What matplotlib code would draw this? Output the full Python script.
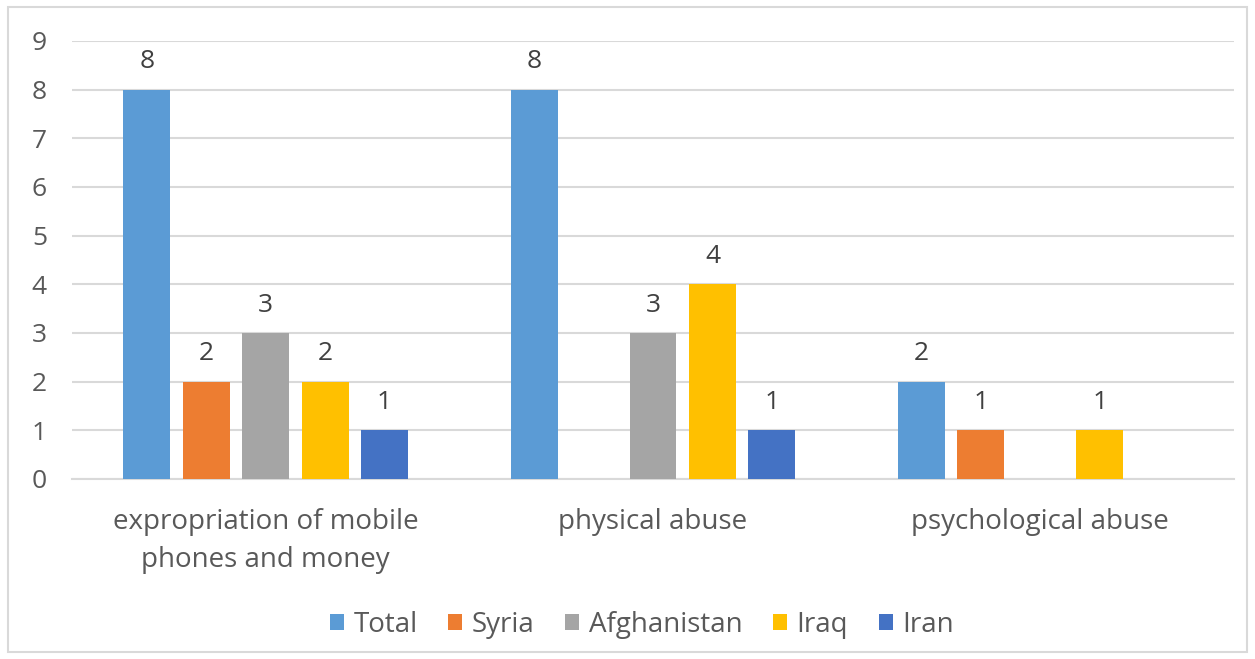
import numpy as np
import matplotlib.pyplot as plt
from matplotlib.patches import Rectangle

categories = ["expropriation of mobile\nphones and money", "physical abuse", "psychological abuse"]
series = ["Total", "Syria", "Afghanistan", "Iraq", "Iran"]
total = [8, 8, 2]
syria = [2, 0, 1]
afghanistan = [3, 3, 0]
iraq = [2, 4, 1]
iran = [1, 1, 0]
colors = ["#5b9bd5", "#ed7d31", "#a5a5a5", "#ffc000", "#4472c4"]

plt.rcParams['font.family'] = ['Open Sans', 'DejaVu Sans']
txt = "#595959"

fig = plt.figure(figsize=(12.55, 6.59), dpi=100)
ax = fig.add_axes([72/1255, 1-479/659, 1162/1255, 438/659])

x = np.arange(len(categories))
pitch = 0.1535
width = 0.121
allvals = [total, syria, afghanistan, iraq, iran]
for i, (name, vals) in enumerate(zip(series, allvals)):
    pos = x + (i - 2) * pitch
    v = np.array(vals, dtype=float)
    bars = ax.bar(pos, v, width, color=colors[i], label=name, zorder=3)
    for p, val in zip(pos, vals):
        if val > 0:
            ax.annotate(str(val), (p, val), xytext=(0, 11), textcoords='offset points',
                        ha='center', va='bottom', fontsize=19, color="#404040")

ax.set_xlim(-0.5, 2.5)
ax.set_ylim(0, 9)
ax.set_yticks(range(0, 10))
ax.yaxis.grid(True, color="#d9d9d9", linewidth=1.5, zorder=0)
ax.set_axisbelow(True)
for s in ["top", "right", "left"]:
    ax.spines[s].set_visible(False)
ax.spines["bottom"].set_color("#d9d9d9")
ax.spines["bottom"].set_linewidth(1.5)
ax.tick_params(axis='both', length=0, labelsize=19, labelcolor=txt)
ax.tick_params(axis='y', pad=18)
ax.tick_params(axis='x', pad=21)
ax.set_xticks(x)
ax.set_xticklabels(categories, linespacing=1.46, fontsize=20)

leg = fig.legend(loc='center', bbox_to_anchor=(642/1255, 1-625/659), ncol=5,
                 frameon=False, fontsize=20, handlelength=0.5, handleheight=0.5,
                 handletextpad=0.35, columnspacing=1.1, labelcolor=txt)

fig.patches.append(Rectangle((8/1255, 1-652/659), 1239/1255, 645/659,
                             transform=fig.transFigure, fill=False,
                             edgecolor="#d9d9d9", linewidth=1.5))

fig.savefig("out.png", dpi=100, facecolor="white")
